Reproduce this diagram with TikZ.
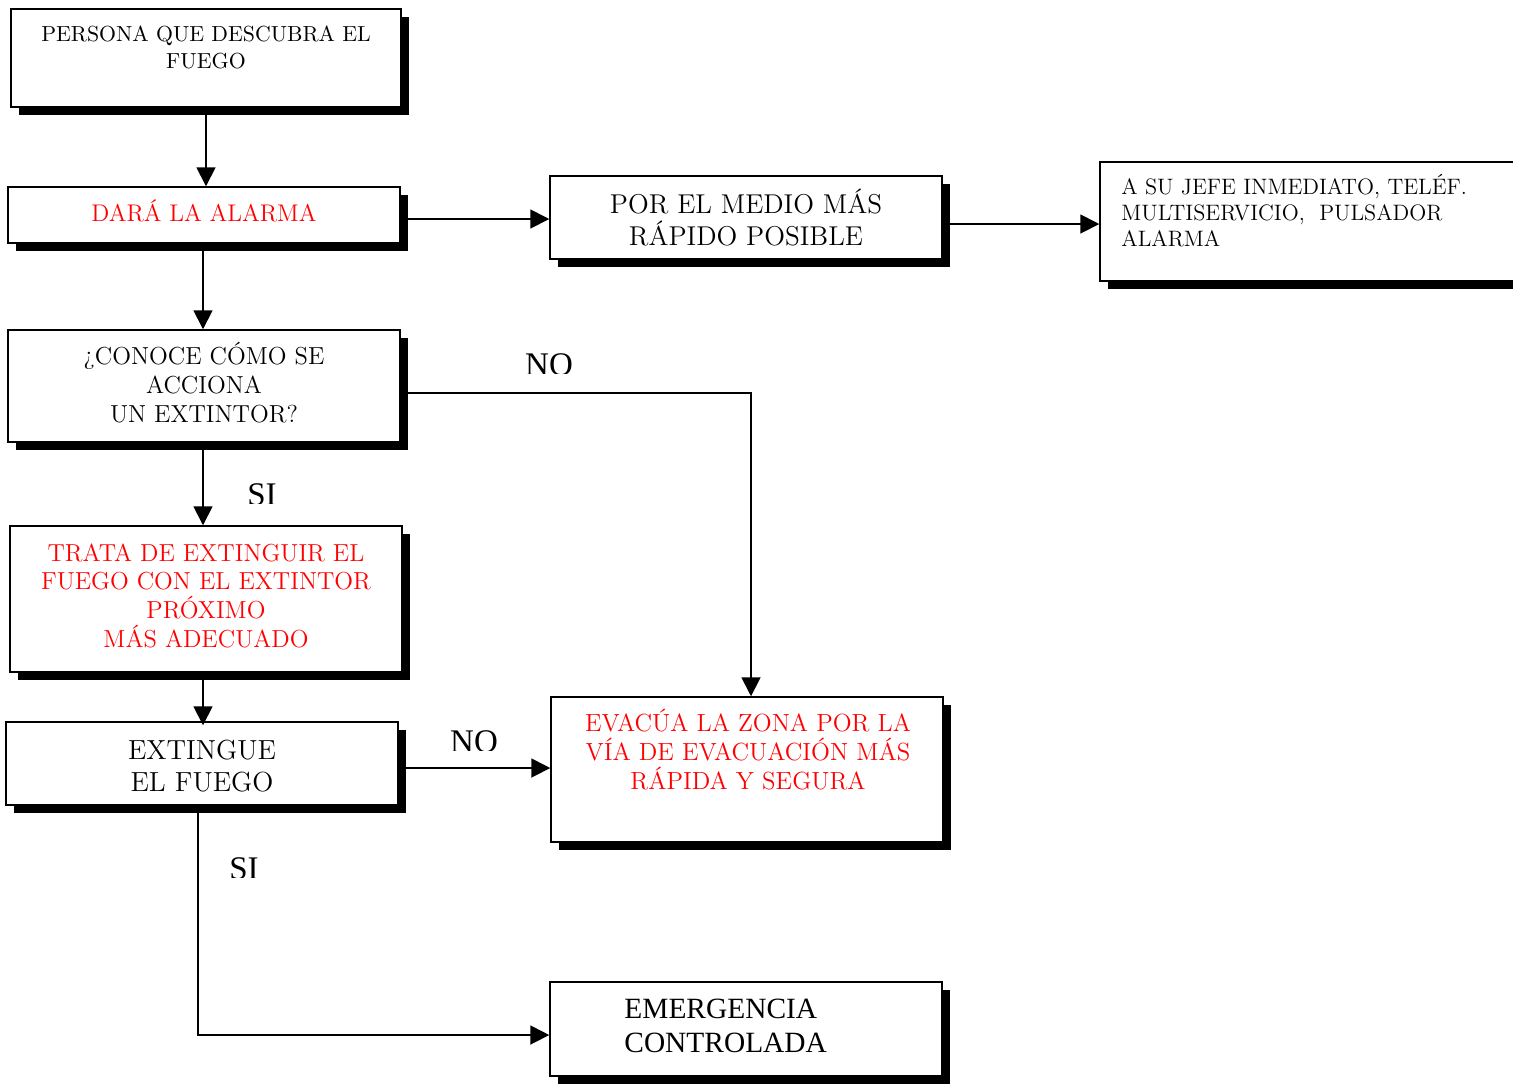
\documentclass[tikz,border=0pt]{standalone}
\usepackage{fontspec}
\newfontfamily\timesfont{Liberation Serif}
\usetikzlibrary{arrows.meta,shadows}
\tikzset{
  box/.style={draw=black, line width=0.75pt, fill=white, inner sep=0pt,
    drop shadow={shadow xshift=4pt, shadow yshift=-4pt, fill=black, opacity=1}},
  txt/.style={inner sep=0pt, align=center},
  arr/.style={line width=0.9pt, -{Triangle[length=9.5pt,width=9.5pt]}},
  lbl/.style={inner sep=0pt, font=\timesfont\fontsize{16.5pt}{18pt}\selectfont},
}
\begin{document}
\begin{tikzpicture}[x=0.5pt,y=-0.5pt]
\clip (0,0) rectangle (1513,1084);
\fill[white] (0,0) rectangle (1513,1084);
% boxes
\node[box, minimum width=195pt, minimum height=49pt] (p) at (206,58) {};
\node[box, minimum width=196pt, minimum height=28pt] (d) at (204,215) {};
\node[box, minimum width=196pt, minimum height=41.5pt] (pm) at (746,217.5) {};
\node[box, minimum width=210pt, minimum height=59.5pt] (j) at (1310,221.5) {};
\node[box, minimum width=196pt, minimum height=56pt] (c) at (204,386) {};
\node[box, minimum width=196pt, minimum height=73pt] (t) at (206,599) {};
\node[box, minimum width=196pt, minimum height=41.5pt] (e) at (202,763.5) {};
\node[box, minimum width=196pt, minimum height=72.5pt] (ev) at (747,769.5) {};
\node[box, minimum width=196pt, minimum height=47pt] (em) at (746,1029) {};
% texts (anchor=base is the baseline of the last line)
\node[txt, anchor=base, font=\fontsize{10.9pt}{13.5pt}\selectfont] (pt) at (206,68) {PERSONA QUE DESCUBRA EL\\FUEGO};
\node[txt, anchor=base, text=red, font=\fontsize{12.05pt}{14pt}\selectfont] (dt) at (204,221) {DARÁ LA ALARMA};
\node[txt, anchor=base, font=\fontsize{13.6pt}{16pt}\selectfont] (pmt) at (746,245) {POR EL MEDIO MÁS\\RÁPIDO POSIBLE};
\node[inner sep=0pt, align=left, anchor=base west, font=\fontsize{11.15pt}{13pt}\selectfont] (jt) at (1121,246) {A SU JEFE INMEDIATO, TELÉF.\\MULTISERVICIO,\ \ PULSADOR\\ALARMA};
\node[txt, anchor=base, font=\fontsize{12.3pt}{14.5pt}\selectfont] (ct) at (204,422) {¿CONOCE CÓMO SE\\ACCIONA\\UN EXTINTOR?};
\node[txt, anchor=base, text=red, font=\fontsize{12.3pt}{14.3pt}\selectfont] (tt) at (206,647) {TRATA DE EXTINGUIR EL\\FUEGO CON EL EXTINTOR\\PRÓXIMO\\MÁS ADECUADO};
\node[txt, anchor=base, font=\fontsize{13.8pt}{16pt}\selectfont] (et) at (202,791) {EXTINGUE\\EL FUEGO};
\node[txt, anchor=base, text=red, font=\fontsize{12.4pt}{14.3pt}\selectfont] (evt) at (748,789) {EVACÚA LA ZONA POR LA\\VÍA DE EVACUACIÓN MÁS\\RÁPIDA Y SEGURA};
\node[inner sep=0pt, align=left, anchor=base west, font=\timesfont\fontsize{14.7pt}{17pt}\selectfont] (emt) at (624,1052) {EMERGENCIA\\CONTROLADA};
% connectors
\draw[arr] (p.south) -- (p.south |- d.north);
\draw[arr] ([xshift=-0.5pt]d.south) -- ([xshift=-0.5pt]d.south |- c.north);
\draw[arr] ([yshift=-2pt]d.east) -- ([yshift=-2pt]d.east -| pm.west);
\draw[arr] ([yshift=-3.25pt]pm.east) -- ([yshift=-3.25pt]pm.east -| j.west);
\draw[arr] ([xshift=-0.5pt]c.south) -- ([xshift=-0.5pt]c.south |- t.north);
\draw[arr] ([yshift=-3.5pt]c.east) -| ([xshift=2pt]ev.north);
\draw[arr] ([xshift=-1.5pt]t.south) -- ([xshift=-1.5pt,yshift=-2pt]t.south |- e.north);
\draw[arr] ([yshift=-2.25pt]e.east) -- ([yshift=-2.25pt]e.east -| ev.west);
\draw[arr] ([xshift=-2pt]e.south) |- ([yshift=-3pt]em.west);
% clipped labels
\begin{scope}
\clip (500,340) rectangle (600,373);
\node[lbl, anchor=base] (no1) at (549,375) {NO};
\end{scope}
\begin{scope}
\clip (230,470) rectangle (300,503);
\node[lbl, anchor=base] (si1) at (262,505) {SI};
\end{scope}
\begin{scope}
\clip (440,715) rectangle (510,750);
\node[lbl, anchor=base] (no2) at (474,752) {NO};
\end{scope}
\begin{scope}
\clip (210,845) rectangle (280,877);
\node[lbl, anchor=base] (si2) at (244,879) {SI};
\end{scope}
\end{tikzpicture}
\end{document}
